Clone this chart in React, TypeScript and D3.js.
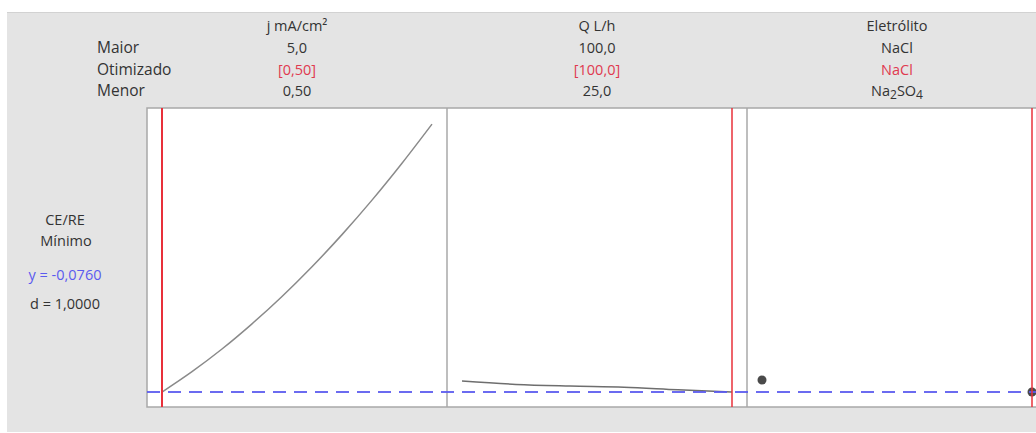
import React from "react";
import * as d3 from "d3";

// Factor settings shown in the header
const factorNames = ["j mA/cm²", "Q L/h", "Eletrólito"];
const rowLabels = ["Maior", "Otimizado", "Menor"];
const highValues = ["5,0", "100,0", "NaCl"];
const optimizedValues = ["[0,50]", "[100,0]", "NaCl"];
const lowValues = ["0,50", "25,0", "Na2SO4"];

// Response summary
const responseName = "CE/RE";
const goal = "Mínimo";
const predictedY = -0.076;
const desirability = 1.0;

// Response trace over current density j (Q = 100, NaCl)
const jValues = [0.5, 1.0, 1.5, 2.0, 2.5, 3.0, 3.5, 4.0, 4.5, 5.0];
const jResponse = [-0.076, 0.044, 0.177, 0.325, 0.486, 0.661, 0.85, 1.053, 1.27, 1.5];

// Response trace over flow rate Q (j = 0.5, NaCl)
const qValues = [25, 40, 55, 70, 85, 100];
const qResponse = [-0.011, -0.031, -0.041, -0.048, -0.063, -0.076];

// Response for each electrolyte (j = 0.5, Q = 100)
const electrolytes = ["Na2SO4", "NaCl"];
const electrolyteResponse = [-0.005, -0.076];

// Optimal settings
const jOpt = 0.5;
const qOpt = 100;
const eOpt = "NaCl";

const fmt = (v: number, d: number) => v.toFixed(d).replace(".", ",");

const FONT = "'Open Sans', 'DejaVu Sans', sans-serif";
const TEXT = "#333333";
const RED = "#e0394f";
const BLUE = "#5b5bef";

function Label({ s }: { s: string }) {
  // chemical formulas get subscripted digits; numbers are left as they are
  if (!/^[A-Za-z]/.test(s)) return <>{s}</>;
  const parts = s.split(/(\d+)/).filter((p) => p.length > 0);
  return (
    <>
      {parts.map((p, i) =>
        /\d/.test(p) ? (
          <tspan key={i} fontSize={12} dy={3}>
            {p}
          </tspan>
        ) : (
          <tspan key={i} dy={i > 0 ? -3 : 0}>
            {p}
          </tspan>
        )
      )}
    </>
  );
}

export default function App() {
  const W = 1036;
  const H = 433;
  const panelLeft = 147;
  const panelW = 300;
  const pad = 15;
  const top = 108;
  const bottom = 407;

  const panelX = (i: number) => panelLeft + i * panelW;

  const xJ = d3.scaleLinear().domain([0.5, 5]).range([panelX(0) + pad, panelX(1) - pad]);
  const xQ = d3.scaleLinear().domain([25, 100]).range([panelX(1) + pad, panelX(2) - pad]);
  const xE = d3.scalePoint<string>().domain(electrolytes).range([panelX(2) + pad, panelX(3) - pad]);
  const y = d3.scaleLinear().domain([-0.164, 1.589]).range([bottom, top + 1]);

  const jLine = d3
    .line<number>()
    .x((_, i) => xJ(jValues[i]))
    .y((v) => y(v))
    .curve(d3.curveCatmullRom.alpha(0.5))(jResponse) as string;

  const qLine = d3
    .line<number>()
    .x((_, i) => xQ(qValues[i]))
    .y((v) => y(v))
    .curve(d3.curveMonotoneX)(qResponse) as string;

  const centers = [0, 1, 2].map((i) => panelX(i) + panelW / 2);
  const rowY = [31, 53, 74.5, 96];

  return (
    <svg
      width={W}
      height={H}
      style={{ position: "absolute", left: 0, top: 0 }}
      fontFamily={FONT}
    >
      <rect x={0} y={0} width={W} height={H} fill="#ffffff" />
      <rect x={7} y={12} width={W - 7} height={420} fill="#e4e4e4" />
      <line x1={7} x2={W} y1={12.5} y2={12.5} stroke="#d2d2d2" />

      {/* header rows */}
      {rowLabels.map((r, i) => (
        <text key={r} x={97} y={rowY[i + 1]} fontSize={15.5} fill={TEXT}>
          {r}
        </text>
      ))}
      {factorNames.map((f, i) => (
        <g key={f} textAnchor="middle" fontSize={14.5}>
          <text x={centers[i]} y={rowY[0]} fill={TEXT}>
            {f}
          </text>
          <text x={centers[i]} y={rowY[1]} fill={TEXT}>
            <Label s={highValues[i]} />
          </text>
          <text x={centers[i]} y={rowY[2]} fill={RED}>
            <Label s={optimizedValues[i]} />
          </text>
          <text x={centers[i]} y={rowY[3]} fill={TEXT}>
            <Label s={lowValues[i]} />
          </text>
        </g>
      ))}

      {/* response summary */}
      <g textAnchor="middle" fontSize={14.5}>
        <text x={65} y={225} fill={TEXT}>
          {responseName}
        </text>
        <text x={66} y={246} fill={TEXT}>
          {goal}
        </text>
        <text x={65} y={280} fill={BLUE}>
          {`y = ${fmt(predictedY, 4)}`}
        </text>
        <text x={65} y={309} fill={TEXT}>
          {`d = ${fmt(desirability, 4)}`}
        </text>
      </g>

      {/* panels */}
      <rect x={panelLeft} y={top} width={W - panelLeft + 20} height={bottom - top} fill="#ffffff" stroke="#a8a8a8" strokeWidth={1.5} />
      {[1, 2].map((i) => (
        <line key={i} x1={panelX(i)} x2={panelX(i)} y1={top} y2={bottom} stroke="#a8a8a8" strokeWidth={1.5} />
      ))}

      {/* response traces */}
      <path d={jLine} fill="none" stroke="#8a8a8a" strokeWidth={1.5} />
      <path d={qLine} fill="none" stroke="#6e6e6e" strokeWidth={1.5} />
      {electrolytes.map((e, i) => (
        <circle key={e} cx={xE(e)} cy={y(electrolyteResponse[i])} r={4.5} fill="#4a4a4a" />
      ))}

      {/* optimal y reference */}
      <line
        x1={panelLeft}
        x2={W}
        y1={y(predictedY)}
        y2={y(predictedY)}
        stroke={BLUE}
        strokeWidth={2}
        strokeDasharray="13 8"
        opacity={0.9}
      />

      {/* optimal settings */}
      <line x1={xJ(jOpt)} x2={xJ(jOpt)} y1={top} y2={bottom} stroke="#e8303a" strokeWidth={2} />
      <line x1={xQ(qOpt)} x2={xQ(qOpt)} y1={top} y2={bottom} stroke="#e8303a" strokeWidth={1.5} />
      <line x1={xE(eOpt)} x2={xE(eOpt)} y1={top} y2={bottom} stroke="#e8303a" strokeWidth={1.5} />
    </svg>
  );
}
